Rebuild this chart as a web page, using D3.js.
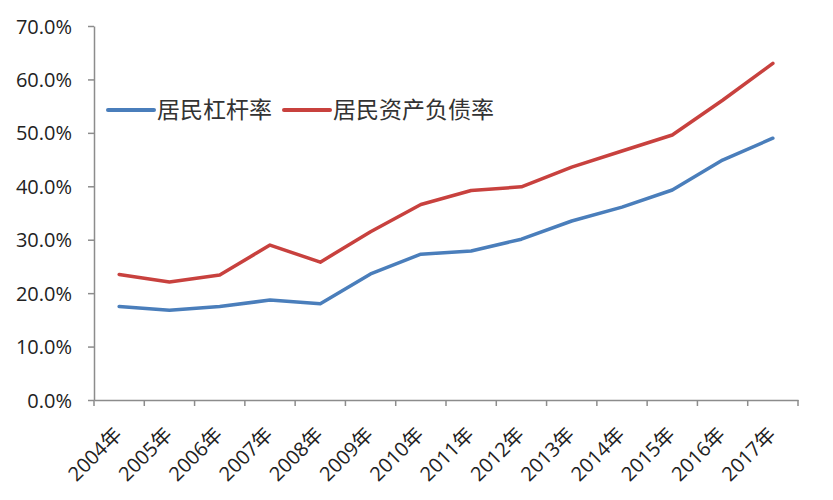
<!DOCTYPE html>
<html><head><meta charset="utf-8">
<script src="https://cdn.jsdelivr.net/npm/d3@7"></script>
<style>body{margin:0;background:#fff}svg{display:block}</style>
</head><body>
<svg id="c" width="833" height="500"></svg>
<script>
const years = ["2004年","2005年","2006年","2007年","2008年","2009年","2010年","2011年","2012年","2013年","2014年","2015年","2016年","2017年"];
const leverage = [17.5,16.8,17.5,18.7,18.0,23.6,27.3,27.9,30.1,33.5,36.1,39.3,44.9,49.0];
const debtRatio = [23.5,22.1,23.4,29.0,25.8,31.5,36.6,39.2,39.9,43.6,46.6,49.6,56.1,63.0];
const yTicks = [0,10,20,30,40,50,60,70];
const seriesNames = ["居民杠杆率","居民资产负债率"];
const colors = ["#4a7ebb","#c8413e"];

const svg = d3.select("#c");
const font = "'Open Sans','Noto Sans CJK SC',sans-serif";
const x = d3.scaleBand().domain(years).range([94,798]);
const y = d3.scaleLinear().domain([0,70]).range([400,26]);

// axes
const yAxis = svg.append("g").attr("transform","translate(94,0)")
  .call(d3.axisLeft(y).tickValues(yTicks).tickSize(6).tickSizeOuter(0).tickFormat(d=>d.toFixed(1)+"%"));
yAxis.selectAll("path,line").attr("stroke","#8c8c8c").attr("stroke-width",1.5);
yAxis.selectAll("text").attr("font-family",font).attr("font-size",20).attr("fill","#222").attr("x",-22).attr("dy","0.35em");

const xAxis = svg.append("g").attr("transform","translate(0,400)")
  .call(d3.axisBottom(x).tickSize(0).tickSizeOuter(0));
xAxis.select("path").attr("stroke","#8c8c8c").attr("stroke-width",1.5);
xAxis.selectAll("text").attr("font-family",font).attr("font-size",20).attr("fill","#222")
  .attr("text-anchor","end").attr("y",0).attr("dy","0.35em")
  .attr("transform","translate(-1,31) rotate(-45)");
// boundary ticks
const bounds = years.map(d=>x(d)).concat([x.range()[1]]);
svg.append("g").selectAll("line").data(bounds).join("line")
  .attr("x1",d=>d).attr("x2",d=>d).attr("y1",400).attr("y2",406)
  .attr("stroke","#8c8c8c").attr("stroke-width",1.5);

// lines
const line = d3.line().x((d,i)=>x(years[i])+x.bandwidth()/2).y(d=>y(d));
[leverage,debtRatio].forEach((s,k)=>{
  svg.append("path").datum(s).attr("d",line).attr("fill","none")
    .attr("stroke",colors[k]).attr("stroke-width",3.5).attr("stroke-linejoin","round").attr("stroke-linecap","round");
});

// legend
const leg = [{x:108,tx:157},{x:284,tx:333}];
seriesNames.forEach((n,k)=>{
  svg.append("line").attr("x1",leg[k].x).attr("x2",leg[k].x+46).attr("y1",110).attr("y2",110)
    .attr("stroke",colors[k]).attr("stroke-width",4).attr("stroke-linecap","round");
  svg.append("text").attr("x",leg[k].tx).attr("y",110).attr("dy","0.36em")
    .attr("font-family","'Noto Sans CJK SC',sans-serif").attr("font-size",23).attr("fill","#333").text(n);
});
</script>
</body></html>
